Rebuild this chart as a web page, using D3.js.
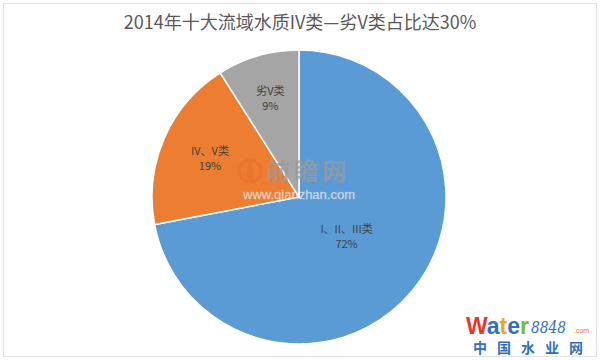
<!DOCTYPE html>
<html><head><meta charset="utf-8">
<script src="https://cdn.jsdelivr.net/npm/d3@7/dist/d3.min.js"></script>
<style>body{margin:0;background:#fff}svg{display:block}</style>
</head><body>
<script>
const title = "2014年十大流域水质IV类—劣V类占比达30%";
const categories = ["I、II、III类", "IV、V类", "劣V类"];
const values = [72, 19, 9];
const colors = ["#5B9BD5", "#ED7D31", "#A5A5A5"];

const W = 600, H = 360;
const svg = d3.select("body").append("svg").attr("width", W).attr("height", H);
svg.append("rect").attr("width", W).attr("height", H).attr("fill", "#fff");
svg.append("rect").attr("x", 3.5).attr("y", 3.5).attr("width", W - 7).attr("height", H - 7)
  .attr("fill", "none").attr("stroke", "#e2e2e2");

svg.append("text").attr("x", 300).attr("y", 29).attr("text-anchor", "middle")
  .attr("font-family", "'Noto Sans CJK SC', sans-serif").attr("font-size", 18)
  .attr("fill", "#595959").text(title);

const cx = 299, cy = 197, r = 147;
const data = categories.map((c, i) => ({ c, v: values[i], col: colors[i] }));
const pie = d3.pie().value(d => d.v).sort(null);
const arcs = pie(data);
const arc = d3.arc().innerRadius(0).outerRadius(r);
const g = svg.append("g").attr("transform", `translate(${cx},${cy})`);
g.selectAll("path").data(arcs).join("path")
  .attr("d", arc).attr("fill", d => d.data.col)
  .attr("stroke", "#fff").attr("stroke-width", 1.5);

// label radii (Excel best-fit placement)
const labelR = [0.42, 0.66, 0.70];
arcs.forEach((a, i) => {
  const la = d3.arc().innerRadius(r * labelR[i]).outerRadius(r * labelR[i]);
  const [x, y] = la.centroid(a);
  const t = g.append("text").attr("text-anchor", "middle")
    .attr("font-family", "'Noto Sans CJK SC', sans-serif").attr("font-size", 11)
    .attr("fill", "#404040");
  t.append("tspan").attr("x", x).attr("y", y - 3).text(a.data.c);
  t.append("tspan").attr("x", x).attr("y", y + 12).text(a.data.v + "%");
});

// watermark 前瞻网
const wm = svg.append("g").attr("opacity", 0.75);
wm.append("circle").attr("cx", 250).attr("cy", 171).attr("r", 11)
  .attr("fill", "none").attr("stroke", "#E8742A").attr("stroke-width", 3);
wm.append("path").attr("d", "M246,180 L248,164 L250,160 L252,164 L254,180 Z").attr("fill", "#E8742A");
wm.append("text").attr("x", 266).attr("y", 180).attr("font-family", "'Noto Sans CJK SC', sans-serif")
  .attr("font-size", 24).attr("font-weight", "bold").attr("fill", "#9a9a9a")
  .attr("letter-spacing", 4).text("前瞻网");
wm.append("text").attr("x", 243).attr("y", 199).attr("font-family", "Arial, 'Liberation Sans', sans-serif")
  .attr("font-size", 13).attr("fill", "#ffffff").attr("stroke", "#d0d0d0").attr("stroke-width", 0.3)
  .text("www.qianzhan.com");

// Water8848 logo
const lg = svg.append("g");
const wt = lg.append("text").attr("x", 466).attr("y", 334).attr("font-family", "'Liberation Sans', Arial, sans-serif")
  .attr("font-size", 23).attr("font-weight", "bold")
  .attr("textLength", 63).attr("lengthAdjust", "spacingAndGlyphs");
[["W", "#E8362B"], ["a", "#2E6FC2"], ["t", "#F3A21B"], ["e", "#2E6FC2"], ["r", "#7DB83A"]].forEach(([ch, c]) =>
  wt.append("tspan").attr("fill", c).text(ch));
lg.append("text").attr("x", 531).attr("y", 333).attr("font-family", "'DejaVu Serif', serif")
  .attr("font-style", "italic").attr("font-size", 16).attr("fill", "#2E6FC2")
  .attr("textLength", 35).attr("lengthAdjust", "spacingAndGlyphs").text("8848");
lg.append("text").attr("x", 574).attr("y", 333).attr("font-family", "Arial, sans-serif")
  .attr("font-size", 7).attr("fill", "#E8742A").text(".com");
lg.append("text").attr("x", 473).attr("y", 353).attr("font-family", "'Noto Sans CJK SC', sans-serif")
  .attr("font-size", 14).attr("font-weight", "bold").attr("fill", "#2E6FC2")
  .attr("letter-spacing", 10).text("中国水业网");
</script>
</body></html>
